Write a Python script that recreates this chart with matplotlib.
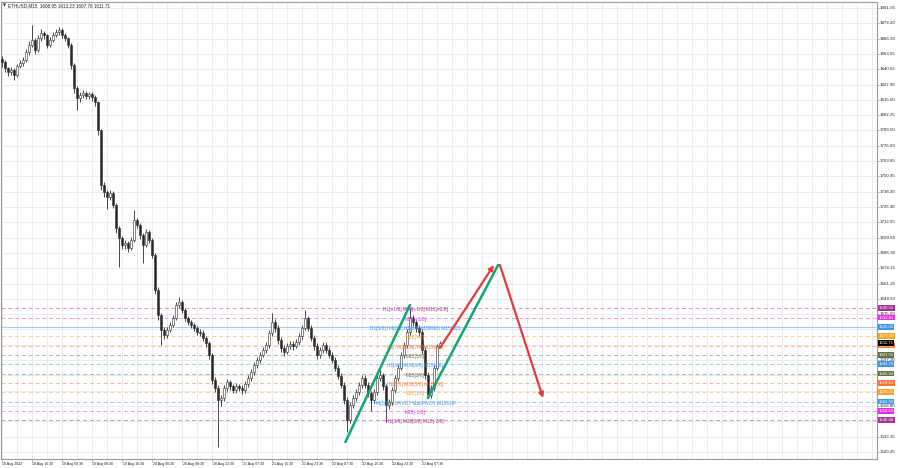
import matplotlib
matplotlib.use("Agg")
import matplotlib.pyplot as plt
from matplotlib.transforms import blended_transform_factory

plt.rcParams['font.family'] = ['Liberation Sans', 'DejaVu Sans']

# ---------------- data ----------------
header = "ETHUSD,M15  1608.95 1613.23 1607.76 1611.71"
first_open = 1849.0
closes = [1846.7, 1841.7, 1838.4, 1840.0, 1835.9, 1843.4, 1845.9, 1848.4, 1855.1, 1861.0,
          1865.2, 1856.8, 1866.8, 1871.0, 1869.4, 1861.0, 1865.2, 1869.4, 1871.9, 1873.5,
          1869.4, 1866.8, 1861.0, 1844.2, 1825.0, 1816.6, 1819.1, 1820.8, 1818.3, 1820.0,
          1817.5, 1813.2, 1789.8, 1743.8, 1737.9, 1733.7, 1737.1, 1727.0, 1707.8, 1699.4,
          1693.5, 1695.2, 1691.0, 1697.7, 1714.5, 1710.3, 1701.9, 1693.5, 1704.4, 1697.7,
          1685.2, 1655.9, 1634.9, 1622.4, 1618.2, 1622.4, 1626.6, 1632.4, 1643.3, 1645.8,
          1639.1, 1632.4, 1629.1, 1626.6, 1624.1, 1620.7, 1619.9, 1615.7, 1611.5, 1601.5,
          1580.5, 1573.8, 1563.8, 1565.4, 1573.8, 1578.8, 1575.5, 1572.1, 1575.5, 1573.8,
          1572.1, 1577.2, 1582.2, 1587.2, 1593.1, 1597.3, 1601.5, 1605.6, 1609.8, 1619.9,
          1629.1, 1624.1, 1614.0, 1607.3, 1604.0, 1609.0, 1610.7, 1609.0, 1612.3, 1617.3,
          1624.1, 1632.4, 1624.1, 1615.7, 1609.0, 1601.5, 1605.6, 1609.8, 1605.6, 1601.5,
          1597.3, 1590.6, 1583.9, 1576.4, 1563.8, 1547.0, 1559.6, 1565.4, 1570.5, 1576.4,
          1582.2, 1576.4, 1569.6, 1563.8, 1570.5, 1582.2, 1584.7, 1575.5, 1559.6, 1562.1,
          1572.1, 1582.2, 1590.6, 1601.5, 1609.8, 1620.7, 1632.4, 1629.1, 1624.1, 1620.7,
          1605.6, 1584.7, 1568.0, 1573.8, 1590.6, 1608.95, 1611.71]
highs = [1851.5, 1848.5, 1843.0, 1842.5, 1842.0, 1845.5, 1848.5, 1851.0, 1858.0, 1864.0,
         1877.5, 1867.0, 1869.0, 1874.5, 1873.0, 1870.5, 1868.0, 1872.0, 1874.5, 1876.0,
         1875.0, 1871.0, 1868.0, 1862.5, 1846.0, 1827.0, 1821.5, 1823.0, 1822.5, 1822.0,
         1821.5, 1819.0, 1814.5, 1791.0, 1746.0, 1740.0, 1740.0, 1738.5, 1728.5, 1709.5,
         1701.5, 1697.5, 1697.0, 1700.0, 1722.5, 1716.5, 1712.0, 1703.5, 1707.0, 1706.0,
         1699.5, 1687.0, 1658.0, 1637.0, 1624.5, 1625.0, 1629.0, 1635.0, 1646.0, 1650.0,
         1647.5, 1641.0, 1634.5, 1631.0, 1628.5, 1626.0, 1623.0, 1622.0, 1617.5, 1613.0,
         1603.0, 1583.0, 1576.0, 1568.0, 1576.0, 1581.5, 1580.5, 1577.5, 1578.0, 1577.5,
         1576.0, 1579.5, 1584.5, 1589.5, 1595.5, 1600.0, 1604.0, 1608.0, 1612.5, 1622.5,
         1636.5, 1631.5, 1626.5, 1616.5, 1609.5, 1611.5, 1613.0, 1613.0, 1615.0, 1619.5,
         1626.5, 1639.0, 1634.5, 1626.5, 1618.0, 1611.5, 1608.0, 1612.0, 1612.0, 1608.0,
         1604.0, 1599.5, 1593.0, 1586.0, 1578.5, 1566.0, 1562.0, 1568.0, 1573.0, 1579.0,
         1585.0, 1584.5, 1578.5, 1571.5, 1573.0, 1584.5, 1589.0, 1586.5, 1577.5, 1565.0,
         1574.5, 1584.5, 1593.0, 1604.0, 1612.5, 1623.5, 1640.5, 1635.0, 1631.0, 1627.0,
         1623.0, 1608.0, 1587.0, 1576.0, 1593.0, 1610.5, 1613.23]
lows = [1843.0, 1838.5, 1835.0, 1836.0, 1832.0, 1834.0, 1841.5, 1843.5, 1846.5, 1853.0,
        1859.0, 1853.5, 1855.0, 1864.5, 1866.0, 1858.5, 1859.0, 1863.5, 1867.5, 1869.5,
        1867.0, 1864.0, 1858.5, 1841.0, 1821.0, 1806.5, 1813.5, 1816.5, 1815.5, 1816.0,
        1814.5, 1810.0, 1786.0, 1740.0, 1733.5, 1724.0, 1731.0, 1724.5, 1704.0, 1675.0,
        1690.0, 1690.5, 1688.0, 1689.5, 1696.0, 1707.5, 1699.0, 1678.5, 1691.5, 1695.0,
        1682.5, 1652.5, 1630.5, 1610.0, 1614.5, 1616.0, 1620.5, 1624.5, 1630.5, 1641.0,
        1636.5, 1630.0, 1626.5, 1624.0, 1621.5, 1618.0, 1617.0, 1613.0, 1608.5, 1598.5,
        1577.0, 1570.5, 1524.4, 1558.5, 1563.0, 1571.5, 1572.5, 1569.5, 1570.0, 1571.0,
        1569.0, 1570.0, 1575.0, 1580.0, 1585.0, 1591.0, 1595.0, 1599.5, 1603.5, 1607.5,
        1617.5, 1621.0, 1611.0, 1604.0, 1601.0, 1602.0, 1606.5, 1606.0, 1607.0, 1610.0,
        1615.0, 1622.0, 1621.5, 1613.0, 1606.0, 1598.5, 1599.0, 1603.0, 1603.0, 1599.0,
        1594.5, 1588.0, 1581.0, 1573.5, 1560.5, 1537.0, 1544.5, 1557.0, 1563.0, 1568.0,
        1574.0, 1573.5, 1566.5, 1555.0, 1561.0, 1568.0, 1580.0, 1572.5, 1545.5, 1556.0,
        1559.5, 1570.0, 1580.0, 1588.5, 1599.0, 1607.5, 1618.5, 1626.0, 1621.0, 1617.5,
        1602.5, 1581.5, 1565.5, 1565.5, 1571.5, 1588.5, 1607.76]

time_labels = ['18 Aug 2022', '18 Aug 16:30', '19 Aug 00:30', '19 Aug 08:30', '19 Aug 16:30',
               '20 Aug 00:30', '20 Aug 08:30', '20 Aug 22:30', '21 Aug 07:30', '21 Aug 15:30',
               '21 Aug 23:30', '22 Aug 07:30', '22 Aug 15:30', '22 Aug 23:30', '23 Aug 07:30']
label_every = 10  # candles between time labels

price_ticks = [1891.95, 1879.20, 1866.30, 1853.55, 1840.65, 1827.90, 1815.00, 1802.25,
               1789.50, 1776.60, 1763.85, 1750.95, 1738.20, 1725.30, 1712.55, 1699.65,
               1686.90, 1674.15, 1661.25, 1648.50, 1635.60, 1622.85, 1609.95, 1597.20,
               1584.45, 1571.55, 1558.80, 1545.90, 1533.15, 1520.25]

level_prices = [1640.62, 1632.81, 1625.00, 1617.19, 1609.38, 1601.56, 1593.75,
                1585.94, 1578.12, 1570.31, 1562.50, 1554.69, 1546.88]
level_colors = ['#a3338f', '#e030e0', '#3f95ea', '#f2a431', '#f0783a', '#5f7140', '#3f95ea',
                '#5f7140', '#f0783a', '#f2a431', '#3f95ea', '#e030e0', '#a3338f']
level_texts = ['H1[+1/8] M30[+1/8] M15[+2/8]', 'M15[+1/8]',
               'D1[5/8] H4[2/8] H1[8/8] M30RES M15RES', 'M15[7/8]',
               'H1[7/8] M30[7/8] M15[6/8]', 'M15[5/8]', 'H1[6/8] M30[6/8] M15[4/8]',
               'M15[3/8]', 'H1[5/8] M30[5/8] M15[2/8]', 'M15[1/8]',
               'H4[1/8] H1PIVOT M30PIVOT M15SUP', 'M15[-1/8]', 'H1[3/8] M30[3/8] M15[-2/8]']
current_price = 1611.71

green_lines = [([114.5, 136.0], [1528.6, 1643.3]),
               ([142.0, 165.4], [1565.4, 1676.8])]
red_arrows = [((146.0, 1607.3), (164.0, 1676.8)),
              ((166.0, 1676.8), (180.4, 1565.4))]

# ---------------- figure ----------------
W, H = 900, 468
fig = plt.figure(figsize=(W / 100, H / 100), dpi=100)
L, R, T, B = 1, 877, 2, 459
ax = fig.add_axes([L / W, 1 - B / H, (R - L) / W, (B - T) / H])
px_per = 3.0
x0 = -0.3
ax.set_xlim(x0, x0 + (R - L) / px_per)
ax.set_ylim(1514.4, 1897.0)

# grid
for gx in range(0, 295, 5):
    ax.axvline(gx, color='#e9e9e9', lw=0.6, zorder=0)
for p in price_ticks:
    ax.axhline(p, color='#e9e9e9', lw=0.6, zorder=0)

# level lines
for p, c in zip(level_prices, level_colors):
    ls = '-' if p == 1625.00 else (0, (4, 3))
    ax.axhline(p, color=c, lw=0.7, ls=ls, alpha=0.5, zorder=1)

# candles
n = len(closes)
xs = list(range(n))
opens = [first_open] + closes[:-1]
ax.vlines(xs, lows, highs, color='#2a2a2a', lw=0.6, zorder=3)
bot = [min(o, c) for o, c in zip(opens, closes)]
hgt = [max(abs(c - o), 0.4) for o, c in zip(opens, closes)]
fcs = ['white' if c >= o else '#2a2a2a' for o, c in zip(opens, closes)]
ax.bar(xs, hgt, bottom=bot, width=0.6, color=fcs, edgecolor='#2a2a2a', lw=0.4, zorder=4)

# level texts
for p, c, t in zip(level_prices, level_colors, level_texts):
    ax.text(137.8, p - 1.4, t, color=c, fontsize=3.4, ha='center', va='center', zorder=6)

# trend lines / arrows
for xx, yy in green_lines:
    ax.plot(xx, yy, color='#16a37a', lw=1.8, solid_capstyle='round', zorder=7)
for (sx, sy), (ex, ey) in red_arrows:
    ax.annotate('', xy=(ex, ey), xytext=(sx, sy),
                arrowprops=dict(arrowstyle='-|>', color='#e23b3b', lw=1.6,
                                mutation_scale=7, shrinkA=0, shrinkB=0), zorder=7)

# axes styling
for s in ax.spines.values():
    s.set_color('#9a9a9a')
    s.set_linewidth(0.8)
ax.set_xticks([i * label_every for i in range(len(time_labels))])
ax.set_xticklabels([])
ax.set_yticks([])
ax.tick_params(axis='x', length=2, width=0.5, color='#9a9a9a', direction='out')

# time labels
for i, t in enumerate(time_labels):
    ax.text(i * label_every + 0.2, 1514.4 - 2.2, t, fontsize=2.6, ha='left', va='top',
            clip_on=False, color='#222222')

# price labels on right (those fully hidden under a level box are not drawn)
tr = blended_transform_factory(ax.transAxes, ax.transData)
xr = 1 + 3.0 / (R - L)
box_prices = level_prices + [current_price]
for p in price_ticks:
    ax.plot([1.0, 1 + 2.0 / (R - L)], [p, p], transform=tr, color='#9a9a9a', lw=0.5,
            clip_on=False)
    if min(abs(p - b) for b in box_prices) < 2.6:
        continue
    ax.text(xr, p, f'{p:.2f}', fontsize=3.2, ha='left', va='center', transform=tr,
            clip_on=False, color='#222222', zorder=2)

box_x = 1 + 1.5 / (R - L)
for p, c in list(zip(level_prices, level_colors)) + [(current_price, '#000000')]:
    ax.text(box_x, p, f'{p:.2f}', fontsize=3.1, ha='left', va='center', transform=tr,
            clip_on=False, color='white', zorder=10,
            bbox=dict(boxstyle='square,pad=0.18', fc=c, ec='none'))

# header
fig.text(3 / W, 1 - 5.5 / H, '\u25bc', fontsize=2.8, ha='left', va='center',
         family=['DejaVu Sans'], color='#222222')
fig.text(8 / W, 1 - 5.5 / H, header, fontsize=3.3, ha='left', va='center', color='#222222')

fig.savefig('out.png', dpi=100)
